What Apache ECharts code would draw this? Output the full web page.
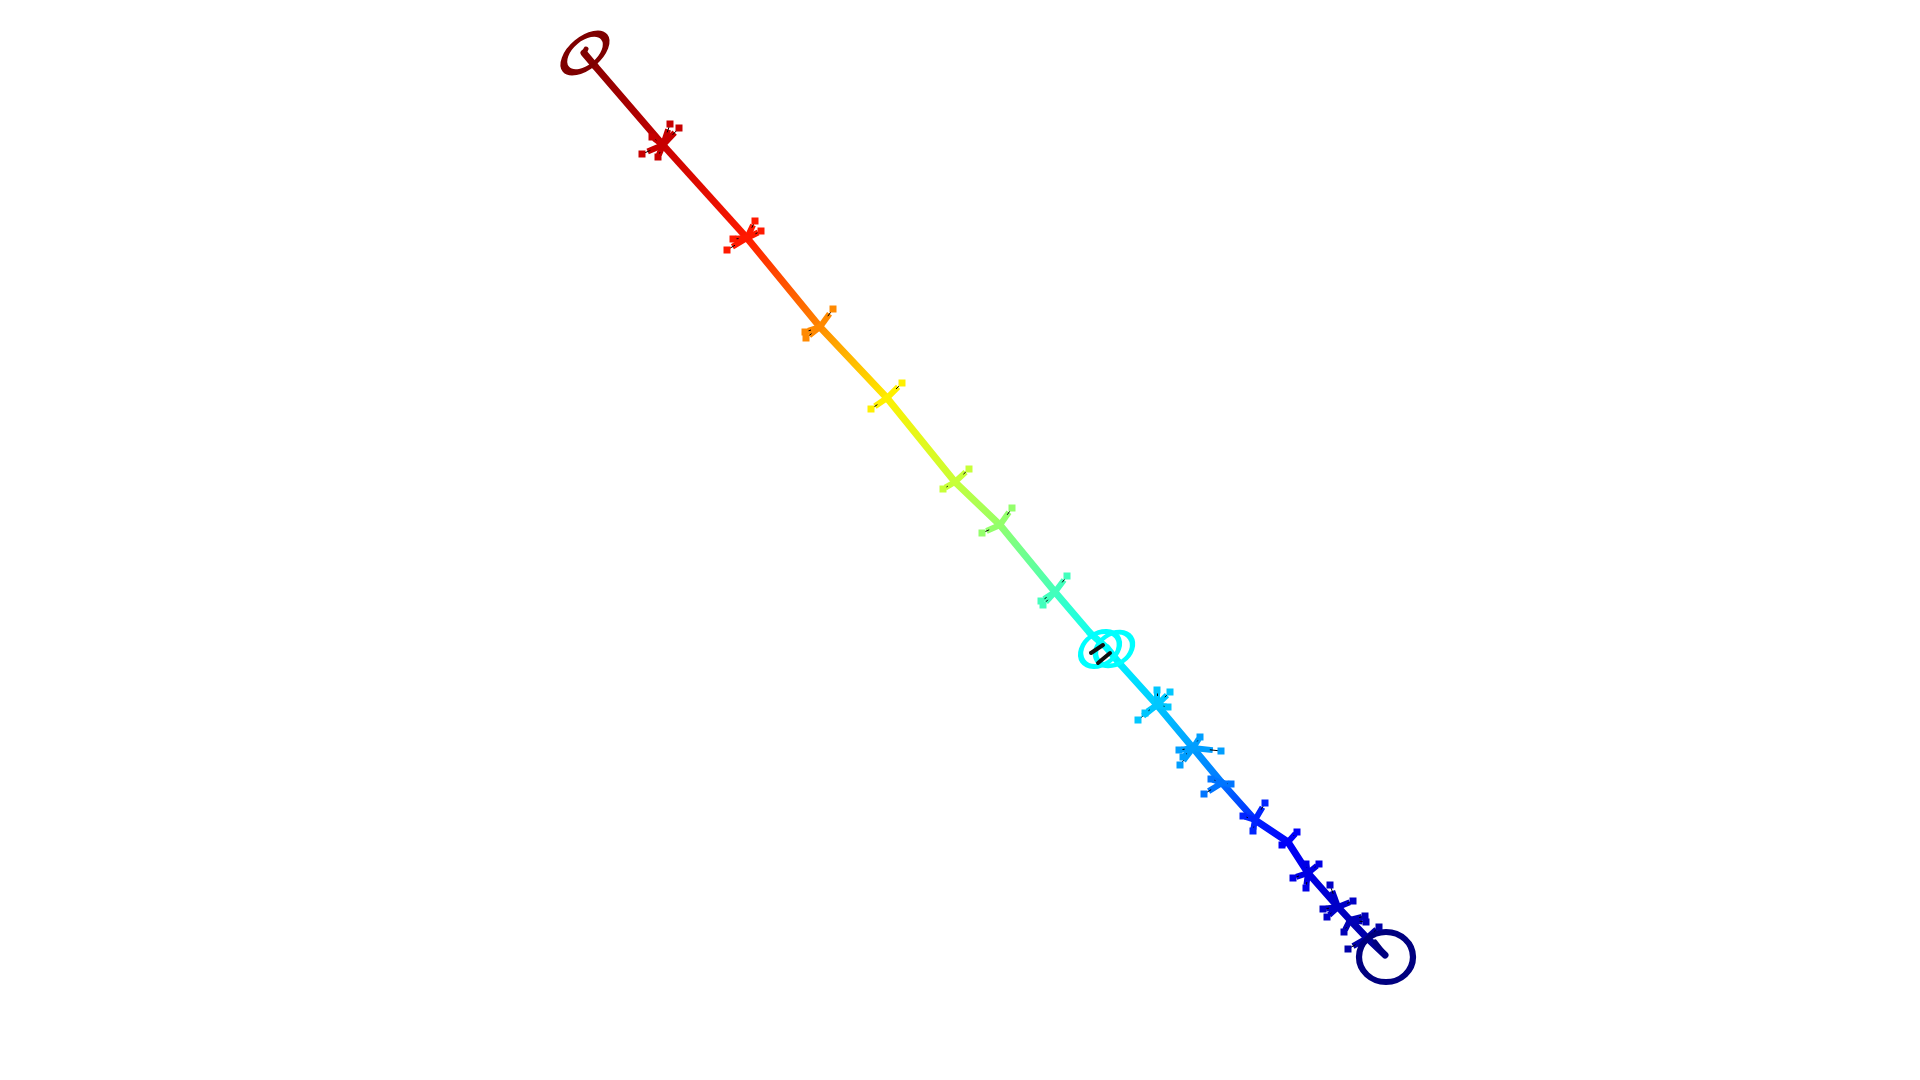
<!DOCTYPE html>
<html>
<head>
<meta charset="utf-8">
<script src="https://cdn.jsdelivr.net/npm/echarts@6/dist/echarts.min.js"></script>
<style>html,body{margin:0;padding:0;background:#fff;}#main{width:1920px;height:1080px;}</style>
</head>
<body>
<div id="main"></div>
<script>
// main chain: [x, y, colour parameter t]
var chain = [
  [584,53,1.0],[595,66,0.99],[663,145,0.93],[747,238,0.85],[820,327,0.74],[887,398,0.64],
  [955,482,0.57],[1000,525,0.52],[1055,592,0.44],[1090,633,0.39],[1107,648,0.375],[1120,664,0.36],
  [1157,705,0.32],[1193,748,0.28],[1222,783,0.24],[1255,820,0.16],[1288,842,0.12],[1308,873,0.10],
  [1338,907,0.07],[1350,920,0.055],[1367,938,0.04],[1385,955,0.0]
];
// cluster centres [x, y, t]
var clusterCenters = [
  [663,145,0.93],[747,238,0.85],[820,327,0.74],[887,398,0.64],[955,482,0.57],[1000,525,0.52],
  [1055,592,0.44],[1157,705,0.32],[1193,748,0.28],[1222,783,0.24],[1255,820,0.16],[1288,842,0.12],
  [1308,873,0.10],[1338,907,0.07],[1350,920,0.055],[1367,938,0.04]
];
// branch tips for each cluster
var clusterTips = [
  [[670,124],[679,128],[642,154],[658,157],[652,137]],
  [[755,221],[761,231],[727,250],[733,239]],
  [[833,309],[806,338],[805,332]],
  [[902,383],[871,409]],
  [[969,469],[943,489]],
  [[1012,508],[982,533]],
  [[1067,576],[1041,601],[1043,605]],
  [[1157,690],[1170,692],[1138,720],[1145,713],[1168,707]],
  [[1200,737],[1221,751],[1179,750],[1180,765],[1183,757]],
  [[1211,779],[1231,784],[1204,794]],
  [[1265,803],[1243,816],[1253,831]],
  [[1297,832],[1282,845]],
  [[1319,864],[1293,878],[1306,888],[1306,864]],
  [[1330,885],[1353,901],[1323,909],[1327,917]],
  [[1365,916],[1344,932],[1366,922]],
  [[1379,927],[1348,949]]
];
// rings: [x, y, width, height, rotation, t, border]
var rings = [
  [585,53,50,28,40,1.0,6],
  [1100,649,42,31,35,0.375,5],
  [1114,649,40,30,35,0.375,5],
  [1386,957,54,50,0,0.0,6]
];
// black edge bundles inside the cyan ring
var darkBars = [
  [[1091,653],[1103,645]],
  [[1098,663],[1110,653]]
];
// inner hooks of the end loops
var hooks = [
  [[1375,942],[1385,955],0.0],
  [[584,53],[586,49],1.0]
];

var jetStops = ['#00007f','#0000ff','#007fff','#00ffff','#7fff7f','#ffff00','#ff7f00','#ff0000','#7f0000'];
function hexToRgb(h){return [parseInt(h.substr(1,2),16),parseInt(h.substr(3,2),16),parseInt(h.substr(5,2),16)];}
function jet(t){
  t = Math.max(0, Math.min(1, t));
  var n = jetStops.length - 1;
  var p = t * n, i = Math.min(Math.floor(p), n - 1), f = p - i;
  var a = hexToRgb(jetStops[i]), b = hexToRgb(jetStops[i+1]);
  return 'rgb(' + [0,1,2].map(function(k){return Math.round(a[k] + (b[k]-a[k])*f);}).join(',') + ')';
}

var chainSegs = [];
for (var i = 0; i < chain.length - 1; i++) {
  var p = chain[i], q = chain[i+1];
  chainSegs.push({coords:[[p[0],p[1]],[q[0],q[1]]],
    lineStyle:{color:new echarts.graphic.LinearGradient(0,0,1,1,[{offset:0,color:jet(p[2])},{offset:1,color:jet(q[2])}])}});
}

var armLines = [], edgeLines = [], tipPoints = [];
clusterCenters.forEach(function(c, ci){
  var col = jet(c[2]);
  clusterTips[ci].forEach(function(tp){
    var mx = c[0] + 0.6*(tp[0]-c[0]), my = c[1] + 0.6*(tp[1]-c[1]);
    armLines.push({coords:[[c[0],c[1]],[mx,my]], lineStyle:{color:col}});
    edgeLines.push({coords:[[mx,my],[tp[0],tp[1]]]});
    tipPoints.push({value:[tp[0],tp[1]], itemStyle:{color:col, opacity:1}});
  });
});
var hookLines = hooks.map(function(h){return {coords:[h[0],h[1]], lineStyle:{color:jet(h[2])}};});
var barLines = darkBars.map(function(b){return {coords:b};});
var ringData = rings.map(function(r){
  return {value:[r[0],r[1]], symbolSize:[r[2],r[3]], symbolRotate:r[4],
    itemStyle:{color:'rgba(0,0,0,0)', opacity:1, borderColor:jet(r[5]), borderWidth:r[6]}};
});

var chart = echarts.init(document.getElementById('main'));
chart.setOption({
  backgroundColor:'#ffffff',
  animation:false,
  grid:{left:0,right:0,top:0,bottom:0},
  xAxis:{type:'value',min:0,max:1920,show:false},
  yAxis:{type:'value',min:0,max:1080,inverse:true,show:false},
  series:[
    {type:'lines', coordinateSystem:'cartesian2d', data:chainSegs, lineStyle:{width:7, opacity:1, cap:'round'}, z:3},
    {type:'lines', coordinateSystem:'cartesian2d', data:armLines, lineStyle:{width:6, opacity:1, cap:'square'}, z:4},
    {type:'lines', coordinateSystem:'cartesian2d', data:edgeLines, lineStyle:{width:1, color:'#000', opacity:1}, z:5},
    {type:'scatter', data:tipPoints, symbol:'rect', symbolSize:7, itemStyle:{opacity:1}, z:6},
    {type:'scatter', data:ringData, symbol:'circle', itemStyle:{opacity:1}, z:4},
    {type:'lines', coordinateSystem:'cartesian2d', data:hookLines, lineStyle:{width:5, opacity:1, cap:'round'}, z:5},
    {type:'lines', coordinateSystem:'cartesian2d', data:barLines, lineStyle:{width:4, color:'#111', opacity:1, cap:'round'}, z:6}
  ]
});
</script>
</body>
</html>
